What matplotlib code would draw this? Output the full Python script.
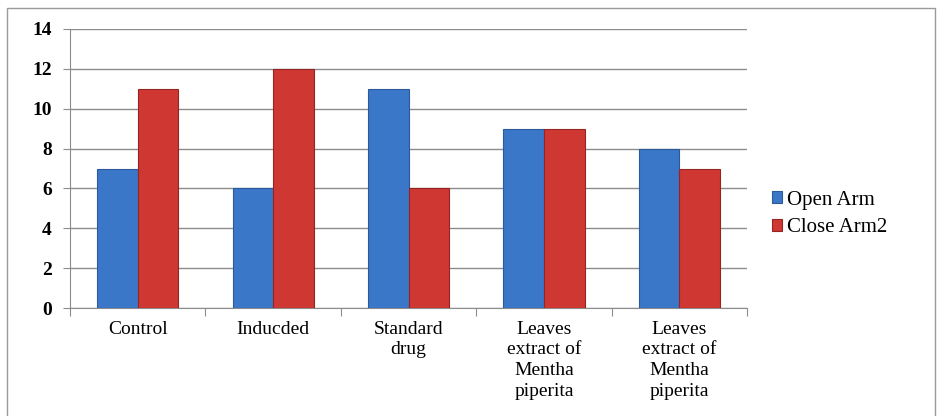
import numpy as np
import matplotlib
matplotlib.use("Agg")
import matplotlib.pyplot as plt
from matplotlib.patches import Rectangle

plt.rcParams["font.family"] = ["Liberation Serif", "DejaVu Serif"]

categories = ["Control", "Inducded", "Standard\ndrug",
              "Leaves\nextract of\nMentha\npiperita",
              "Leaves\nextract of\nMentha\npiperita"]
open_arm = [7, 6, 11, 9, 8]
close_arm = [11, 12, 6, 9, 7]
series_names = ["Open Arm", "Close Arm2"]

fig = plt.figure(figsize=(9.39, 4.16), dpi=100)
# outer chart border
fig.patches.append(Rectangle((7 / 939, -0.05), 928 / 939, 1.05 - 8 / 416,
                             transform=fig.transFigure, fill=False,
                             edgecolor="#9a9a9a", linewidth=1.0))

ax = fig.add_axes([0.0746, 0.2596, 0.7209, 0.6707])
x = np.arange(len(categories))
w = 0.3
ax.bar(x - w / 2, open_arm, w, color="#3b77c8", edgecolor="#2a5a9a",
       linewidth=0.8, label=series_names[0], zorder=3)
ax.bar(x + w / 2, close_arm, w, color="#cf3733", edgecolor="#962522",
       linewidth=0.8, label=series_names[1], zorder=3)

ax.set_xlim(-0.5, len(categories) - 0.5)
ax.set_ylim(0, 14)
ax.set_yticks(range(0, 15, 2))
ax.yaxis.grid(True, color="#8c8c8c", linewidth=1.0, zorder=0)

ax.set_xticks(np.arange(-0.5, len(categories), 1.0))
ax.set_xticklabels([])
ax.set_xticks(x, minor=True)
ax.set_xticklabels(categories, minor=True, fontsize=14, linespacing=1.3)
ax.tick_params(axis="x", which="major", length=6, color="#8c8c8c", direction="out")
ax.tick_params(axis="x", which="minor", length=0, pad=9)
ax.tick_params(axis="y", length=5, color="#8c8c8c", labelsize=14, pad=8)
for lab in ax.get_yticklabels():
    lab.set_fontweight("bold")

for side in ["top", "right"]:
    ax.spines[side].set_visible(False)
for side in ["left", "bottom"]:
    ax.spines[side].set_color("#8c8c8c")

ax.legend(loc="center left", bbox_to_anchor=(772 / 939, 202 / 416),
          bbox_transform=fig.transFigure, frameon=False,
          fontsize=15, handlelength=0.5, handleheight=0.5, handletextpad=0.2,
          labelspacing=0.4, borderaxespad=0, borderpad=0)

fig.savefig("out.png", dpi=100)
